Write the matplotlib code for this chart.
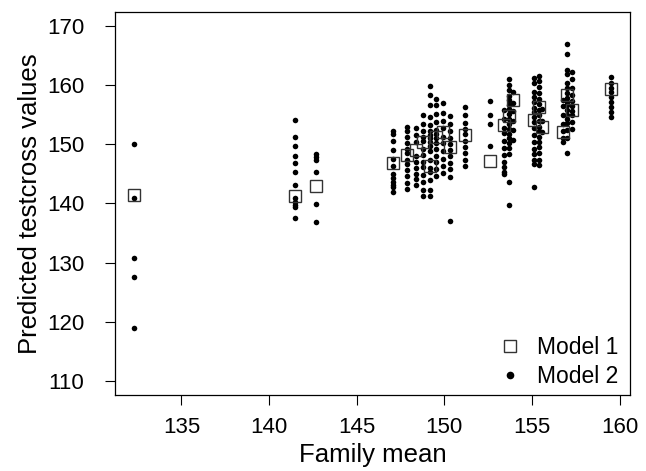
import matplotlib
matplotlib.use("Agg")
import matplotlib.pyplot as plt
from matplotlib.lines import Line2D

plt.rcParams['font.family'] = ['Liberation Sans', 'DejaVu Sans']

# family means (x) and Model 1 prediction per family
family_mean = [132.3, 141.5, 142.7, 147.1, 147.9, 148.4, 148.8, 149.2, 149.5,
               149.9, 150.3, 151.2, 152.6, 153.4, 153.7, 153.9, 155.1, 155.4,
               155.6, 156.8, 157.0, 157.3, 159.5]
model1 = [141.5, 141.3, 142.9, 146.9, 148.2, 149.0, 150.4, 146.3, 151.3,
          152.0, 149.5, 151.5, 147.1, 153.3, 154.7, 157.5, 154.1, 156.3,
          153.0, 152.0, 158.3, 155.8, 159.3]

# Model 2 predictions, one list per family
model2 = [
    [150.0, 141.0, 130.8, 127.6, 119.0],
    [154.1, 151.3, 149.7, 148.0, 146.8, 145.3, 143.1, 140.9, 140.2, 139.8, 139.4, 137.5],
    [148.4, 147.8, 147.4, 145.3, 139.9, 136.9],
    [152.3, 151.7, 150.6, 149.1, 147.6, 146.4, 145.0, 144.3, 143.6, 143.2, 142.7, 142.0],
    [153.0, 152.2, 151.2, 150.3, 149.2, 148.5, 147.3, 146.6, 145.6, 144.6, 143.4, 142.5],
    [152.8, 151.5, 150.4, 148.1, 147.0, 146.0, 145.0, 144.2, 143.2],
    [155.0, 153.4, 152.2, 151.3, 150.6, 149.2, 148.2, 147.0, 146.1, 144.8, 143.7, 142.2, 141.3],
    [159.8, 158.4, 156.6, 154.6, 153.2, 152.2, 151.6, 151.0, 150.4, 149.7, 148.9, 147.4,
     146.0, 145.4, 144.0, 142.2, 141.2],
    [157.6, 156.6, 155.1, 153.7, 152.5, 151.8, 151.0, 150.3, 149.2, 148.1, 147.0, 145.8, 144.7],
    [157.0, 155.3, 153.9, 152.8, 151.3, 150.3, 148.8, 147.5, 146.4, 145.1],
    [154.7, 153.5, 152.3, 151.0, 150.0, 149.0, 148.1, 146.9, 145.8, 144.4, 137.0],
    [156.3, 155.0, 153.6, 152.6, 151.8, 150.6, 149.5, 148.5, 147.3, 146.4],
    [157.3, 155.0, 153.5, 149.7],
    [155.8, 154.3, 152.8, 151.9, 150.6, 149.4, 148.2, 147.0, 146.2, 145.4, 145.0],
    [161.0, 160.1, 159.1, 158.2, 157.5, 156.7, 155.9, 155.1, 154.3, 153.5, 152.6, 151.8,
     151.0, 150.2, 149.3, 148.3, 143.7, 139.8],
    [158.8, 157.0, 155.6, 153.9, 152.4, 150.8],
    [161.2, 160.3, 158.9, 158.0, 157.1, 156.2, 155.4, 154.6, 153.7, 152.8, 151.5, 150.4,
     149.2, 148.3, 147.4, 146.7, 142.8],
    [161.6, 160.7, 159.7, 158.6, 157.7, 156.8, 155.8, 154.9, 153.9, 153.0, 152.2, 151.3,
     150.4, 149.5, 148.5, 147.4, 146.5],
    [156.0, 154.0, 152.0],
    [157.5, 156.4, 155.0, 153.4, 152.3, 151.1, 150.4],
    [166.9, 165.3, 162.6, 161.9, 160.3, 159.5, 158.7, 157.9, 157.2, 156.6, 155.8, 155.0,
     154.2, 153.6, 152.4, 151.0, 148.6],
    [162.3, 161.0, 159.6, 158.3, 157.4, 156.5, 155.7, 154.9, 153.7, 152.6],
    [161.3, 160.4, 159.6, 158.8, 158.0, 157.2, 156.3, 155.5, 154.6],
]

xticks = [135, 140, 145, 150, 155, 160]
yticks = [110, 120, 130, 140, 150, 160, 170]


def main():
    fig = plt.figure(figsize=(6.46, 4.71), dpi=100)
    ax = fig.add_axes([0.178, 0.161, 0.797, 0.814])

    # model 2 dots
    xs, ys = [], []
    for fm, vals in zip(family_mean, model2):
        xs += [fm] * len(vals)
        ys += vals
    ax.plot(xs, ys, ls='', marker='o', ms=4.0, color='black', mec='black', mew=0, zorder=2)

    # model 1 open squares
    ax.plot(family_mean, model1, ls='', marker='s', ms=8, mfc='none', mec='#333333',
            mew=1.0, zorder=3)

    # R style axis ranges (data range +- 4%)
    x0, x1 = min(family_mean), max(family_mean)
    dx = (x1 - x0) * 0.04
    ax.set_xlim(x0 - dx, x1 + dx)
    ax.set_ylim(110 - 2.4, 170 + 2.4)

    ax.set_xticks(xticks)
    ax.set_yticks(yticks)
    ax.tick_params(axis='both', direction='out', length=7, width=0.8, labelsize=16)
    ax.tick_params(axis='x', pad=9)
    ax.tick_params(axis='y', pad=15)
    for s in ax.spines.values():
        s.set_linewidth(0.9)

    ax.set_xlabel('Family mean', fontsize=18.5, labelpad=3)
    ax.set_ylabel('Predicted testcross values', fontsize=18.5, labelpad=4)

    handles = [
        Line2D([], [], ls='', marker='s', ms=8, mfc='none', mec='#333333', mew=1.0),
        Line2D([], [], ls='', marker='o', ms=5.5, color='black', mew=0),
    ]
    ax.legend(handles, ['Model 1', 'Model 2'], loc='lower right',
              bbox_to_anchor=(1.0, -0.01), frameon=False,
              fontsize=16.5, handlelength=1.0, handletextpad=0.7, labelspacing=0.25,
              borderaxespad=0.1)

    fig.savefig('out.png', dpi=100)


if __name__ == "__main__":
    main()
